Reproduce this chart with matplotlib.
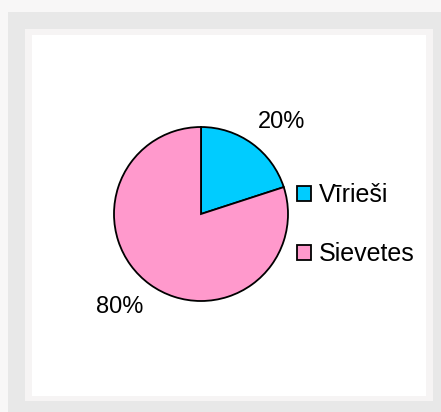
import matplotlib
matplotlib.use("Agg")
import matplotlib.pyplot as plt
from matplotlib.patches import Rectangle

plt.rcParams["font.family"] = ["Liberation Sans", "DejaVu Sans"]

# data
categories = ["Vīrieši", "Sievetes"]
shares = [20, 80]
colors = ["#00ccff", "#ff99cc"]

W, H = 441, 412
fig = plt.figure(figsize=(W / 100, H / 100), dpi=100, facecolor="#f8f7f7")


def px_rect(x0, y0, x1, y1, color):
    # pixel box (top-left origin) -> figure fraction rectangle
    fig.patches.append(Rectangle((x0 / W, 1 - y1 / H), (x1 - x0) / W, (y1 - y0) / H,
                                 transform=fig.transFigure, facecolor=color,
                                 edgecolor="none", zorder=-10))


px_rect(8, 12, W + 5, H + 5, "#e8e8e8")
px_rect(25, 29, 433, 401, "#f6f4f4")
px_rect(32, 35, 426, 396, "#ffffff")

# pie axes: centre (201, 214) px, radius 87 px
cx, cy, r = 201, 214, 87
ax = fig.add_axes([(cx - r) / W, 1 - (cy + r) / H, 2 * r / W, 2 * r / H])
ax.set_facecolor("none")
ax.set_zorder(5)

wedges, texts = ax.pie(shares, colors=colors, startangle=90, counterclock=False,
                       radius=1.0, wedgeprops=dict(edgecolor="black", linewidth=1.3))
ax.set_xlim(-1, 1)
ax.set_ylim(-1, 1)
ax.set_aspect("auto")
ax.axis("off")

label_pos = [(0.925, 1.052), (-0.934, -1.069)]
for val, (x, y) in zip(shares, label_pos):
    ax.text(x, y, f"{val}%", ha="center", va="center", fontsize=17, color="black",
            clip_on=False)

leg = fig.legend(wedges, categories, loc="center left",
                 bbox_to_anchor=(297 / W, 1 - 224.5 / H), frameon=False,
                 fontsize=18, handlelength=0.56, handleheight=0.56,
                 handletextpad=0.3, labelspacing=1.4, borderpad=0, borderaxespad=0)
leg.set_zorder(6)

fig.savefig("out.png", dpi=100, facecolor=fig.get_facecolor())
